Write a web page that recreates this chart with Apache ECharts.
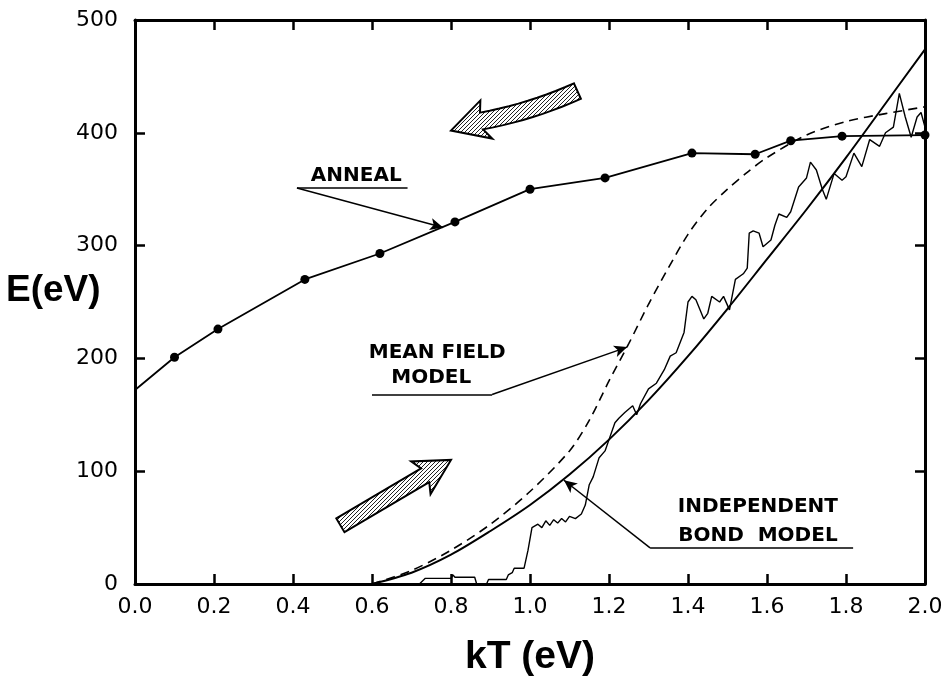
<!DOCTYPE html>
<html>
<head>
<meta charset="utf-8">
<title>E vs kT</title>
<script src="https://cdn.jsdelivr.net/npm/echarts@6/dist/echarts.min.js"></script>
<style>
  html, body { margin: 0; background: #fff; }
  #chart { width: 948px; height: 676px; }
</style>
</head>
<body>
<div id="chart"></div>
<script>
// anneal run (dots), first point is where the line meets the axis
const annealKT = [0, 0.1, 0.21, 0.43, 0.62, 0.81, 1.0, 1.19, 1.41, 1.57, 1.66, 1.79, 2.0];
const annealE  = [172, 201, 226, 270, 293, 321, 350, 360, 382, 381, 393, 397, 398];

// independent bond model (solid)
const bondKT = [0.6, 0.7, 0.8, 0.9, 1.0, 1.1, 1.2, 1.3, 1.4, 1.5, 1.6, 1.7, 1.8, 1.9, 2.0];
const bondE  = [0, 10, 26, 47, 70, 97, 128, 163, 202, 244, 288, 332, 378, 426, 474];

// mean field model (dashed)
const mfKT = [0.6, 0.7, 0.8, 0.9, 1.0, 1.1, 1.15, 1.2, 1.25, 1.3, 1.35, 1.4, 1.45, 1.5, 1.55, 1.6, 1.7, 1.8, 1.9, 2.0];
const mfE  = [0, 12, 30, 53, 82, 118, 145, 180, 213, 248, 280, 310, 333, 350, 365, 378, 398, 410, 417, 423];

// heating simulation (noisy trace)
const simKT = [0.72, 0.735, 0.80, 0.805, 0.81, 0.86, 0.865, 0.89, 0.895, 0.94, 0.945, 0.95, 0.955, 0.96, 0.985,
  0.995, 1.005, 1.02, 1.03, 1.04, 1.05, 1.06, 1.07, 1.08, 1.09, 1.10, 1.115, 1.13, 1.14, 1.15, 1.16, 1.175,
  1.19, 1.20, 1.215, 1.225, 1.24, 1.26, 1.27, 1.28, 1.30, 1.32, 1.34, 1.355, 1.37, 1.39, 1.40, 1.41, 1.42,
  1.44, 1.45, 1.46, 1.48, 1.49, 1.505, 1.52, 1.54, 1.55, 1.555, 1.565, 1.58, 1.59, 1.61, 1.62, 1.63, 1.65, 1.66,
  1.68, 1.70, 1.71, 1.725, 1.74, 1.75, 1.77, 1.79, 1.80, 1.82, 1.84, 1.86, 1.885, 1.90, 1.92, 1.935, 1.95, 1.965,
  1.98, 1.99, 2.0];
const simE = [0, 5, 5, 8, 6, 6, 0, 0, 4, 4, 8, 8, 10, 14, 14,
  30, 50, 53, 50, 56, 52, 57, 54, 58, 55, 60, 58, 62, 70, 88, 95, 112,
  118, 128, 143, 147, 152, 158, 150, 160, 173, 178, 190, 202, 205, 223, 250, 255, 252,
  235, 240, 255, 250, 255, 243, 270, 275, 280, 311, 313, 311, 299, 305, 318, 328, 325, 330,
  352, 360, 374, 367, 350, 341, 364, 358, 361, 382, 370, 394, 388, 400, 405, 435, 414, 396,
  414, 418, 405];

const xTicks = [0, 0.2, 0.4, 0.6, 0.8, 1.0, 1.2, 1.4, 1.6, 1.8, 2.0];
const yTicks = [0, 100, 200, 300, 400, 500];

const pair = (xs, ys) => xs.map((x, i) => [x, ys[i]]);
const annealData = pair(annealKT, annealE).map((p, i) => i === 0 ? { value: p, symbol: 'none' } : p);

const sans = '"Liberation Sans", Arial, sans-serif';
const wide = '"DejaVu Sans", sans-serif';
const axisCommon = {
  type: 'value',
  axisLine: { show: true, onZero: false, lineStyle: { color: '#000', width: 3 } },
  axisTick: { show: true, inside: true, length: 10, lineStyle: { color: '#000', width: 2.5 } },
  splitLine: { show: false }
};

const chart = echarts.init(document.getElementById('chart'));
chart.setOption({
  animation: false,
  backgroundColor: '#fff',
  grid: { left: 135, right: 23, top: 20, bottom: 92, containLabel: false, outerBoundsMode: 'none' },
  xAxis: [
    Object.assign({}, axisCommon, {
      min: xTicks[0], max: xTicks[xTicks.length - 1], interval: 0.2, position: 'bottom',
      axisLabel: { margin: 12, fontSize: 22, color: '#000', fontFamily: wide, formatter: v => v.toFixed(1) },
      name: 'kT (eV)', nameLocation: 'middle', nameGap: 54,
      nameTextStyle: { fontSize: 39, fontWeight: 'bold', color: '#000', fontFamily: sans }
    }),
    Object.assign({}, axisCommon, {
      min: xTicks[0], max: xTicks[xTicks.length - 1], interval: 0.2, position: 'top',
      axisLabel: { show: false }
    })
  ],
  yAxis: [
    Object.assign({}, axisCommon, {
      min: yTicks[0], max: yTicks[yTicks.length - 1], interval: 100, position: 'left',
      axisLabel: { margin: 17, fontSize: 22, color: '#000', fontFamily: wide }
    }),
    Object.assign({}, axisCommon, {
      min: yTicks[0], max: yTicks[yTicks.length - 1], interval: 100, position: 'right',
      axisLabel: { show: false }
    })
  ],
  series: [
    {
      name: 'anneal', type: 'line', data: annealData,
      symbol: 'circle', symbolSize: 9, showAllSymbol: true,
      itemStyle: { color: '#000' }, lineStyle: { color: '#000', width: 1.8 }
    },
    {
      name: 'independent bond', type: 'line', data: pair(bondKT, bondE), smooth: 0.3,
      symbol: 'none', lineStyle: { color: '#000', width: 2 }
    },
    {
      name: 'mean field', type: 'line', data: pair(mfKT, mfE), smooth: 0.3,
      symbol: 'none', lineStyle: { color: '#000', width: 1.6, type: [9, 6] }
    },
    {
      name: 'simulation', type: 'line', data: pair(simKT, simE),
      symbol: 'none', lineStyle: { color: '#000', width: 1.4 },
      markLine: {
        silent: true, animation: false,
        symbolSize: [9, 13],
        label: { show: false },
        lineStyle: { color: '#000', width: 1.5, type: 'solid' },
        data: [
          // ANNEAL underline + leader
          [{ coord: [0.41, 351], symbol: 'none' }, { coord: [0.69, 351], symbol: 'none' }],
          [{ coord: [0.41, 351], symbol: 'none' }, { coord: [0.78, 316], symbol: 'arrow' }],
          // MEAN FIELD MODEL underline + leader
          [{ coord: [0.60, 168], symbol: 'none' }, { coord: [0.904, 168], symbol: 'none' }],
          [{ coord: [0.904, 168], symbol: 'none' }, { coord: [1.246, 210], symbol: 'arrow' }],
          // INDEPENDENT BOND MODEL underline + leader
          [{ coord: [1.304, 32], symbol: 'none' }, { coord: [1.818, 32], symbol: 'none' }],
          [{ coord: [1.304, 32], symbol: 'none' }, { coord: [1.086, 92], symbol: 'arrow' }]
        ]
      }
    }
  ]
});

// dotted fill for the big direction arrows
const hatch = document.createElement('canvas');
hatch.width = 4; hatch.height = 4;
const hc = hatch.getContext('2d');
hc.fillStyle = '#fff'; hc.fillRect(0, 0, 4, 4);
hc.fillStyle = '#222';
hc.fillRect(0, 0, 1, 1); hc.fillRect(2, 2, 1, 1); hc.fillRect(1, 3, 1, 1); hc.fillRect(3, 1, 1, 1);

// hatched arrow from tail to head (data coords), shaft bent by `bend` px
function bigArrow(tail, head, shaft, headW, headL, bend) {
  const t = chart.convertToPixel({ gridIndex: 0 }, tail);
  const h = chart.convertToPixel({ gridIndex: 0 }, head);
  const dx = h[0] - t[0], dy = h[1] - t[1], L = Math.hypot(dx, dy);
  const ux = dx / L, uy = dy / L, nx = -uy, ny = ux;
  const b = [h[0] - ux * headL, h[1] - uy * headL];
  const c = [(t[0] + b[0]) / 2 + nx * bend, (t[1] + b[1]) / 2 + ny * bend];
  const left = [], right = [];
  for (let i = 0; i <= 10; i++) {
    const s = i / 10, r = 1 - s;
    const px = r * r * t[0] + 2 * r * s * c[0] + s * s * b[0];
    const py = r * r * t[1] + 2 * r * s * c[1] + s * s * b[1];
    let tx = 2 * r * (c[0] - t[0]) + 2 * s * (b[0] - c[0]);
    let ty = 2 * r * (c[1] - t[1]) + 2 * s * (b[1] - c[1]);
    const tl = Math.hypot(tx, ty); tx /= tl; ty /= tl;
    left.push([px - ty * shaft / 2, py + tx * shaft / 2]);
    right.push([px + ty * shaft / 2, py - tx * shaft / 2]);
  }
  const w = headW / 2;
  const pts = left.concat([[b[0] + nx * w - ux * 5, b[1] + ny * w - uy * 5], h,
    [b[0] - nx * w - ux * 5, b[1] - ny * w - uy * 5]], right.reverse());
  return {
    type: 'polygon', silent: true, z: 10,
    shape: { points: pts },
    style: { fill: { image: hatch, repeat: 'repeat' }, stroke: '#000', lineWidth: 2 }
  };
}

function note(text, at) {
  const p = chart.convertToPixel({ gridIndex: 0 }, at);
  return {
    type: 'text', silent: true, x: p[0], y: p[1], z: 10,
    style: { text: text, fill: '#000', font: 'bold 20px ' + wide, align: 'center', verticalAlign: 'middle' }
  };
}

chart.setOption({
  graphic: [
    // y-axis title, written horizontally left of the tick labels
    {
      type: 'text', silent: true, left: 6, top: 272,
      style: { text: 'E(eV)', fill: '#000', font: 'bold 37px ' + sans }
    },
    bigArrow([1.12, 437], [0.80, 402], 17, 40, 32, -6),
    bigArrow([0.52, 52], [0.80, 110], 16, 38, 30, 0),
    note('ANNEAL', [0.56, 362]),
    note('MEAN FIELD', [0.765, 205]),
    note('MODEL', [0.75, 183]),
    note('INDEPENDENT', [1.577, 68]),
    note('BOND  MODEL', [1.577, 43])
  ]
});
</script>
</body>
</html>
